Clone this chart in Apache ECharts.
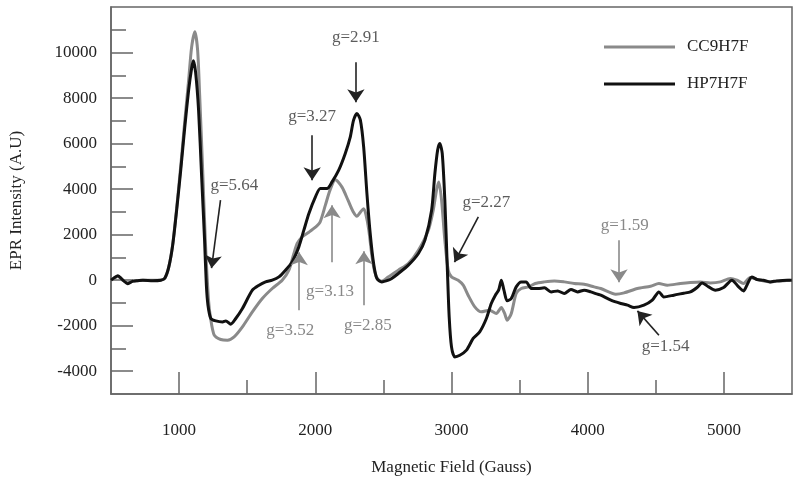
<!DOCTYPE html>
<html>
<head>
<meta charset="utf-8">
<script src="https://cdn.jsdelivr.net/npm/echarts@6/dist/echarts.min.js"></script>
<style>html,body{margin:0;padding:0;background:#fff;}#c{width:800px;height:484px;}</style>
</head>
<body>
<div id="c"></div>
<script>
// ---- data ----
const seriesNames = ['CC9H7F', 'HP7H7F'];
const yTickLabels = [-4000, -2000, 0, 2000, 4000, 6000, 8000, 10000];
const yMinorTicks = [-3000, -1000, 1000, 3000, 5000, 7000, 9000, 11000];
const xTickLabels = [1000, 2000, 3000, 4000, 5000];
const xMinorTicks = [1500, 2500, 3500, 4500];

const cc9Field = [500,529,551,580,624,661,734,865,895,924,953,982,1012,1041,1070,1092,1116,1136,1151,1173,1194,1216,1231,1258,1306,1355,1404,1465,1538,1611,1684,1757,1806,1843,1867,1904,1953,2001,2035,2074,2108,2147,2196,2240,2276,2306,2331,2355,2371,2393,2415,2437,2459,2488,2537,2610,2683,2757,2830,2866,2890,2907,2927,2951,2976,3000,3049,3086,3122,3171,3219,3280,3329,3366,3390,3409,3439,3475,3512,3566,3615,3682,3755,3828,3901,3974,4047,4096,4206,4267,4365,4462,4523,4584,4681,4754,4827,4900,4974,5047,5096,5144,5193,5266,5339,5412,5485];
const cc9Intensity = [0,110,176,22,-110,-44,0,0,88,571,1581,3163,5008,6941,8786,10236,10908,10104,8127,4832,1538,-878,-1669,-2416,-2605,-2636,-2491,-2051,-1392,-804,-365,0,439,1173,1612,1906,2109,2328,2548,3295,3954,4415,4086,3514,3031,2811,2987,3141,2899,2197,1098,351,44,-44,145,439,734,1318,2197,3075,3954,4318,3514,1757,439,145,0,-220,-659,-1172,-1392,-1318,-1463,-1199,-1463,-1757,-1463,-584,-365,-294,-145,-75,-31,-75,-145,-176,-294,-365,-615,-558,-365,-264,-145,-220,-145,-101,-75,-119,-75,75,0,-145,119,0,-75,-31,0];

const hp7Field = [500,529,551,580,624,661,697,734,807,865,895,924,953,982,1012,1041,1070,1092,1105,1121,1143,1165,1187,1200,1212,1233,1270,1319,1343,1379,1416,1465,1538,1587,1635,1684,1733,1781,1830,1879,1916,1953,2001,2037,2086,2123,2172,2220,2257,2281,2306,2331,2355,2379,2403,2428,2452,2488,2537,2561,2610,2683,2757,2805,2854,2878,2898,2914,2932,2951,2969,2983,3000,3024,3061,3110,3159,3207,3256,3292,3322,3346,3366,3385,3409,3439,3475,3512,3548,3585,3634,3682,3731,3780,3828,3877,3926,3974,4023,4072,4096,4170,4243,4292,4340,4413,4474,4523,4559,4632,4705,4754,4803,4840,4888,4937,4998,5059,5108,5144,5169,5205,5242,5290,5339,5388,5461,5498];
const hp7Intensity = [0,132,198,44,-154,-44,-22,0,-22,0,88,571,1538,3075,4832,6678,8347,9314,9635,9138,7469,4613,1757,-200,-1100,-1683,-1788,-1832,-1788,-1933,-1683,-1243,-439,-220,-75,0,145,439,804,1463,2197,2930,3660,4028,4028,4318,4832,5565,6294,7029,7323,7029,5856,3808,2050,734,75,-75,0,75,294,659,1173,1757,3075,4687,5711,6005,5565,3514,584,-1612,-2930,-3370,-3300,-3075,-2561,-2271,-1683,-1024,-659,-439,0,-439,-909,-803,-294,-75,-75,-365,-365,-338,-514,-470,-584,-409,-514,-439,-514,-615,-659,-878,-1024,-1098,-1199,-1098,-878,-514,-734,-659,-571,-514,-321,-119,-294,-440,-321,0,-294,-470,-220,145,31,0,-75,-31,0,0];

// annotations (data coordinates)
const annLabels = ['g=5.64','g=3.27','g=2.91','g=3.52','g=3.13','g=2.85','g=2.27','g=1.59','g=1.54'];
const annOwner = ['HP7H7F','HP7H7F','HP7H7F','CC9H7F','CC9H7F','CC9H7F','HP7H7F','CC9H7F','HP7H7F'];
const annLabelField = [1406,1977,2298,1816,2108,2386,3256,4272,4572];
const annLabelIntensity = [4173,7205,10675,-2197,-483,-1977,3427,2416,-2899];
const arrowFromField = [1304,1977,2298,1882,2123,2357,3197,4230,4523];
const arrowFromIntensity = [3514,6370,9577,-1318,791,-1098,2781,1757,-2416];
const arrowToField = [1238,1977,2298,1882,2123,2357,3022,4230,4365];
const arrowToIntensity = [527,4393,7820,1230,3295,1274,791,-88,-1349];

// ---- styles ----
const FONT = "'Liberation Serif','Times New Roman',serif";
const GRAY = '#8a8a8a';
const DARK = '#111111';
const AXIS = '#666666';
const annTextColor = {CC9H7F: '#6a6a6a', HP7H7F: '#333333'};
const annArrowColor = {CC9H7F: '#8a8a8a', HP7H7F: '#222222'};

function pairs(xs, ys){ return xs.map((x,i)=>[x, ys[i]]); }
const plain = v => String(v);

function annSeries(owner){
  const idx = annLabels.map((_,i)=>i).filter(i=>annOwner[i]===owner);
  return {
    type: 'scatter',
    name: 'ann-' + owner,
    symbolSize: 0,
    silent: true,
    z: 5,
    itemStyle: {color: annArrowColor[owner]},
    data: idx.map(i=>({
      value: [annLabelField[i], annLabelIntensity[i]],
      label: {show: true, position: 'inside', formatter: annLabels[i],
        color: annTextColor[owner], fontFamily: FONT, fontSize: 17}
    })),
    markLine: {
      silent: true,
      symbol: ['none', 'arrow'],
      symbolSize: 13,
      label: {show: false},
      emphasis: {disabled: true},
      itemStyle: {color: annArrowColor[owner]},
      lineStyle: {color: annArrowColor[owner], width: 1.6, type: 'solid'},
      data: idx.map(i=>[
        {coord: [arrowFromField[i], arrowFromIntensity[i]]},
        {coord: [arrowToField[i], arrowToIntensity[i]]}
      ])
    }
  };
}

const chart = echarts.init(document.getElementById('c'), null, {renderer: 'canvas'});
chart.setOption({
  animation: false,
  backgroundColor: '#ffffff',
  grid: {left: 108, right: 8, top: 7, bottom: 90, show: true, borderColor: AXIS, borderWidth: 1.5, backgroundColor: 'transparent'},
  legend: {
    data: seriesNames,
    orient: 'vertical',
    left: 599, top: 32,
    icon: 'path://M0,0 L71,0 L71,3 L0,3 Z',
    itemWidth: 71, itemHeight: 3, itemGap: 17,
    textStyle: {fontFamily: FONT, fontSize: 17, color: '#222', lineHeight: 20, padding: [0,0,0,7]}
  },
  xAxis: [
    {
      type: 'value', min: 500, max: 5500,
      name: 'Magnetic Field (Gauss)', nameLocation: 'middle', nameGap: 65,
      nameTextStyle: {fontFamily: FONT, fontSize: 17, color: '#222'},
      axisLine: {show: true, onZero: false, lineStyle: {color: AXIS, width: 1.5}},
      axisTick: {show: true, inside: true, length: 22, customValues: xTickLabels, lineStyle: {color: AXIS, width: 1.5}},
      axisLabel: {show: true, customValues: xTickLabels, formatter: plain, margin: 28, fontFamily: FONT, fontSize: 17, color: '#222'},
      splitLine: {show: false}
    },
    {
      type: 'value', min: 500, max: 5500, position: 'bottom', offset: 0,
      axisLine: {show: false, onZero: false},
      axisTick: {show: true, inside: true, length: 14, customValues: xMinorTicks, lineStyle: {color: AXIS, width: 1.5}},
      axisLabel: {show: false},
      splitLine: {show: false}
    }
  ],
  yAxis: [
    {
      type: 'value', min: -5000, max: 12000,
      name: 'EPR Intensity (A.U)', nameLocation: 'middle', nameGap: 86,
      nameTextStyle: {fontFamily: FONT, fontSize: 17, color: '#222'},
      axisLine: {show: true, onZero: false, lineStyle: {color: AXIS, width: 1.5}},
      axisTick: {show: true, inside: true, length: 22, customValues: yTickLabels, lineStyle: {color: AXIS, width: 1.5}},
      axisLabel: {show: true, customValues: yTickLabels, formatter: plain, margin: 14, fontFamily: FONT, fontSize: 17, color: '#222'},
      splitLine: {show: false}
    },
    {
      type: 'value', min: -5000, max: 12000, position: 'left', offset: 0,
      axisLine: {show: false, onZero: false},
      axisTick: {show: true, inside: true, length: 15, customValues: yMinorTicks, lineStyle: {color: AXIS, width: 1.5}},
      axisLabel: {show: false},
      splitLine: {show: false}
    }
  ],
  series: [
    {
      name: 'CC9H7F', type: 'line', symbol: 'none', smooth: 0.25, z: 2,
      lineStyle: {color: GRAY, width: 3}, itemStyle: {color: GRAY},
      data: pairs(cc9Field, cc9Intensity)
    },
    {
      name: 'HP7H7F', type: 'line', symbol: 'none', smooth: 0.25, z: 3,
      lineStyle: {color: DARK, width: 3}, itemStyle: {color: DARK},
      data: pairs(hp7Field, hp7Intensity)
    },
    annSeries('HP7H7F'),
    annSeries('CC9H7F')
  ]
});
</script>
</body>
</html>
